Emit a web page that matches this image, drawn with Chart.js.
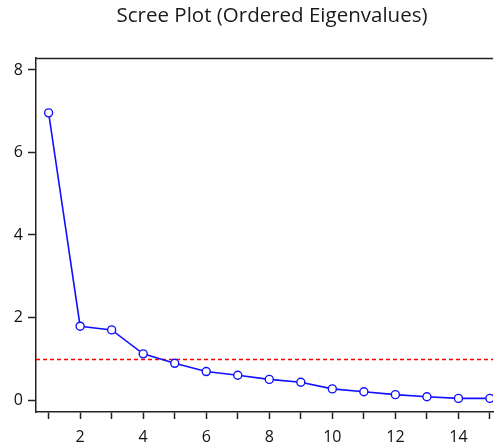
<!DOCTYPE html>
<html><head><meta charset="utf-8">
<script src="https://cdn.jsdelivr.net/npm/chart.js@4/dist/chart.umd.min.js"></script>
<style>html,body{margin:0;padding:0;background:#fff;}#wrap{width:499px;height:448px;}</style>
</head><body><div id="wrap"><canvas id="c" width="499" height="448"></canvas></div>
<script>
const components = [1,2,3,4,5,6,7,8,9,10,11,12,13,14,15];
const eigenvalues = [6.96,1.79,1.70,1.12,0.89,0.69,0.60,0.50,0.43,0.27,0.20,0.13,0.08,0.04,0.04];
const xTicks = [1,2,3,4,5,6,7,8,9,10,11,12,13,14,15];
const yTicks = [0,2,4,6,8];
const threshold = 1;
const titleText = 'Scree Plot (Ordered Eigenvalues)';
const FONT = '"Open Sans", "DejaVu Sans", sans-serif';

const extras = {
  id: 'extras',
  beforeDatasetsDraw(chart) {
    const {ctx, chartArea: a, scales: {y}} = chart;
    const py = Math.round(y.getPixelForValue(threshold)) + 0.5;
    ctx.save();
    ctx.strokeStyle = '#ff0000';
    ctx.lineWidth = 1.3;
    ctx.setLineDash([4, 3]);
    ctx.beginPath(); ctx.moveTo(a.left, py); ctx.lineTo(a.right, py); ctx.stroke();
    ctx.restore();
  },
  afterDraw(chart) {
    const {ctx, chartArea: a} = chart;
    ctx.save();
    ctx.strokeStyle = '#222';
    ctx.lineWidth = 1.5;
    ctx.beginPath(); ctx.moveTo(a.left, a.top + 0.5); ctx.lineTo(a.right, a.top + 0.5); ctx.stroke();
    ctx.fillStyle = '#1a1a1a';
    ctx.font = '20.5px ' + FONT;
    ctx.textAlign = 'center';
    ctx.textBaseline = 'middle';
    ctx.fillText(titleText, 272, 16);
    ctx.restore();
  }
};

new Chart(document.getElementById('c'), {
  type: 'scatter',
  data: {
    datasets: [{
      data: components.map((c, i) => ({x: c, y: eigenvalues[i]})),
      showLine: true,
      borderColor: '#1010ff',
      borderWidth: 1.6,
      pointStyle: 'circle',
      pointRadius: 4,
      pointBorderWidth: 1.4,
      pointBorderColor: '#1010ff',
      pointBackgroundColor: '#ffffff',
      tension: 0
    }]
  },
  options: {
    responsive: false,
    animation: false,
    layout: {padding: {top: 58, right: 0, left: 0, bottom: 0}},
    plugins: {legend: {display: false}, title: {display: false}, tooltip: {enabled: false}},
    scales: {
      x: {
        type: 'linear', min: 0.6, max: 15.1,
        afterBuildTicks(s) { s.ticks = xTicks.map(v => ({value: v})); },
        afterFit(s) { s.height = 36; },
        grid: {display: true, drawOnChartArea: false, drawTicks: true, tickLength: 7, tickColor: '#222', tickWidth: 1.5},
        border: {display: true, color: '#222', width: 1.5},
        ticks: {
          autoSkip: false, maxRotation: 0, padding: 9,
          color: '#111', font: {family: FONT, size: 16},
          callback: v => (v % 2 === 0 ? String(v) : '')
        }
      },
      y: {
        type: 'linear', min: -0.29, max: 8.29,
        afterBuildTicks(s) { s.ticks = yTicks.map(v => ({value: v})); },
        afterFit(s) { s.width = 36; },
        grid: {display: true, drawOnChartArea: false, drawTicks: true, tickLength: 8, tickColor: '#222', tickWidth: 1.5},
        border: {display: true, color: '#222', width: 1.5},
        ticks: {
          padding: 5, color: '#111', font: {family: FONT, size: 16},
          callback: v => String(v)
        }
      }
    }
  },
  plugins: [extras]
});
</script></body></html>
